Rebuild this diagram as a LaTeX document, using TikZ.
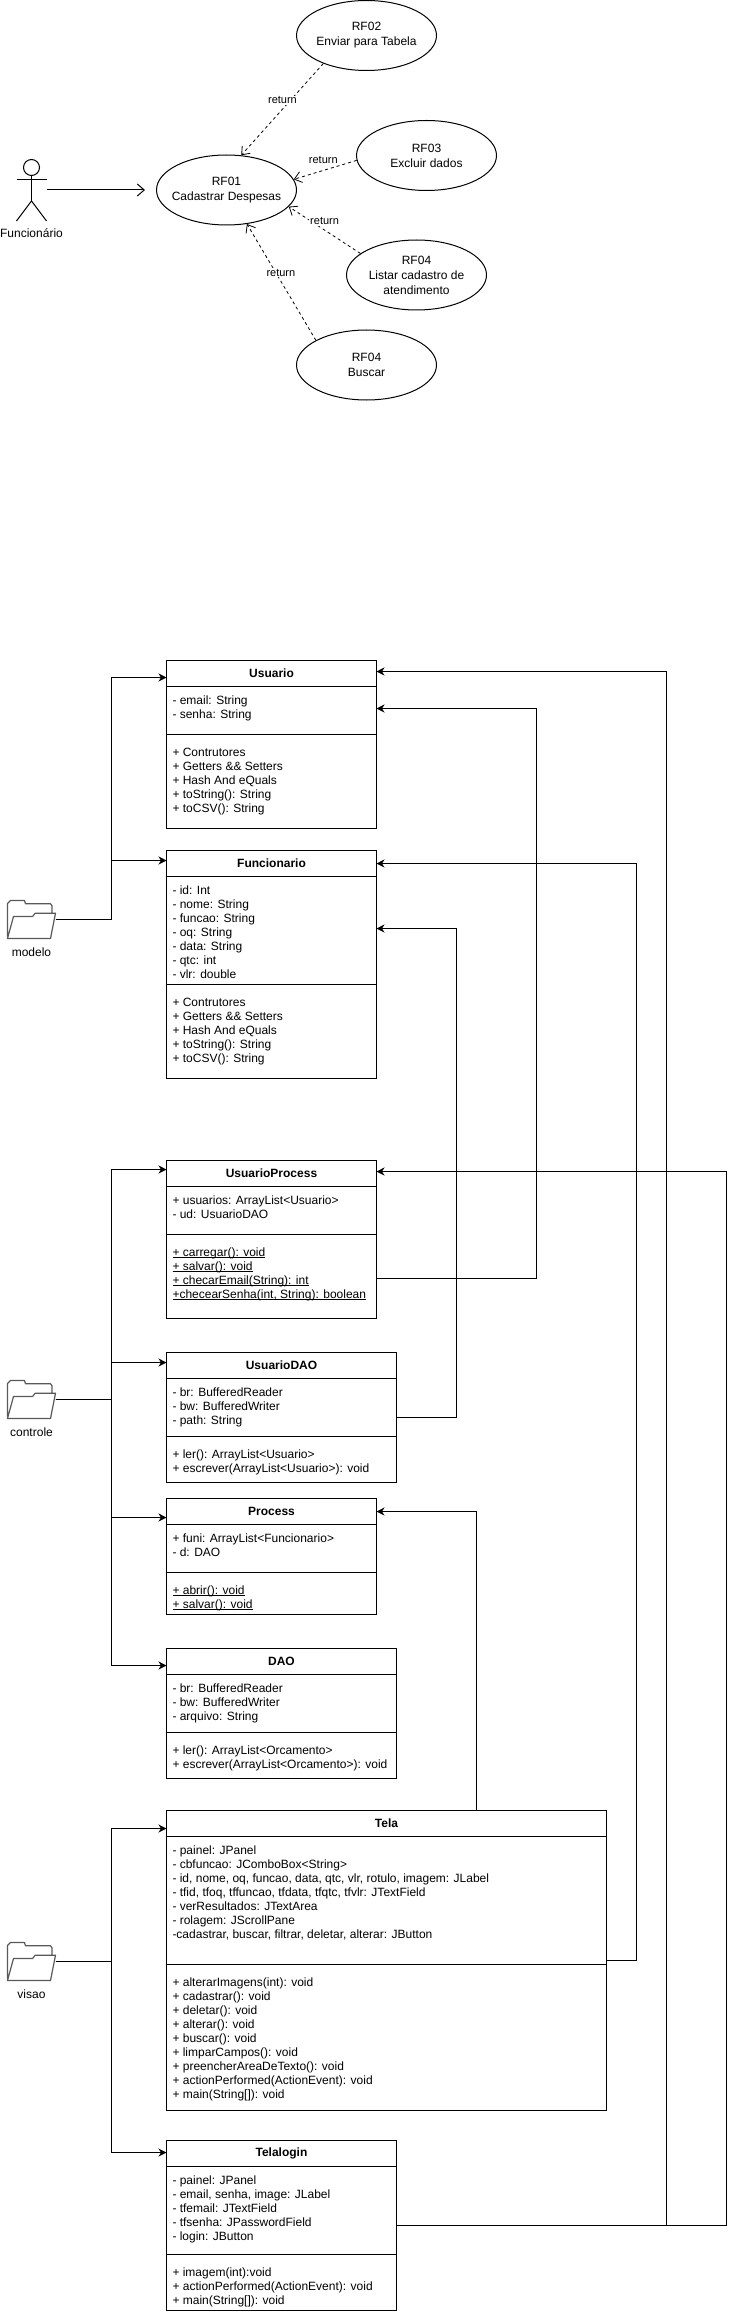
\documentclass[tikz,border=0pt]{standalone}
\usepackage{fontspec}
\setmainfont{Liberation Sans}
\usetikzlibrary{positioning,shapes.geometric,arrows.meta}

% width, height, top gap, lines
\newcommand{\classrows}[4]{\parbox[t][#2pt][t]{#1pt}{\raggedright\vspace*{#3pt}\strut#4}}
\newcommand{\classuline}[1]{\leavevmode\setbox0=\hbox{#1}\rlap{\rule[-1.6pt]{\wd0}{.8pt}}\box0}

\begin{document}
\begin{tikzpicture}[
x=1pt,y=-1pt,
font=\fontsize{12}{14}\selectfont,
usecase/.style={ellipse, draw=black, line width=1pt, minimum width=140pt, minimum height=70pt, inner xsep=-30pt, inner ysep=-20pt, align=center, font=\fontsize{12}{15}\selectfont},
actorhead/.style={circle, draw=black, line width=1pt, minimum size=16pt, inner sep=0pt},
plainlabel/.style={inner sep=0pt},
returnlabel/.style={fill=white, inner sep=1pt, font=\fontsize{11}{13}\selectfont},
classtitle/.style={rectangle, draw=black, line width=1pt, outer sep=0pt, inner sep=0pt, minimum height=26pt, font=\fontsize{12}{14}\selectfont\bfseries},
classbody/.style={rectangle, draw=black, line width=1pt, outer sep=0pt, inner ysep=0pt, inner xsep=6pt},
foldernode/.style={rectangle, minimum width=48pt, minimum height=38pt, inner sep=0pt, outer sep=0pt},
folderline/.style={draw=black!65, line width=1.2pt, line join=round},
openlink/.style={line width=1pt, -{Straight Barb[length=7pt,width=12pt]}},
returnlink/.style={line width=.8pt, dash pattern=on 3pt off 3pt, -{Straight Barb[length=7pt,width=11pt]}},
classlink/.style={line width=1pt, -{Stealth[length=8pt,width=8pt,inset=2.5pt]}},
]
\useasboundingbox (0,0) rectangle (735,2314);

%Use cases
\node[usecase] (rf01) at (226.5,190)  {RF01\\Cadastrar Despesas};
\node[usecase] (rf02) at (366.5,35.5) {RF02\\Enviar para Tabela};
\node[usecase] (rf03) at (426.5,155.5) {RF03\\Excluir dados};
\node[usecase] (rf04a) at (416.5,275) {RF04\\Listar cadastro de\\atendimento};
\node[usecase] (rf04b) at (366.5,365) {RF04\\Buscar};

%Actor
\node[actorhead] (head) at (31.5,167.5) {};
\coordinate (armleft)  at (16.5,180);
\coordinate (armright) at (46.5,180);
\coordinate (hip)      at (31.5,201);
\coordinate (footleft) at (16.5,221);
\coordinate (footright) at (46.5,221);
\coordinate (hand)     at (46.5,190);
\draw[line width=1pt] (head.south) -- (hip);
\draw[line width=1pt] (armleft) -- (armright);
\draw[line width=1pt] (footleft) -- (hip) -- (footright);
\node[plainlabel] (funcionario) at (31.5,233) {Funcion\'ario};

%Use case lines
\draw[openlink, shorten >=11pt] (hand) -- (rf01.west |- hand);
\draw[returnlink] (rf02.213)  -- node[returnlabel, pos=.4, xshift=-8pt] (ret1) {return} (rf01.67);
\draw[returnlink] (rf03.184)  -- node[returnlabel, pos=.53, yshift=10pt] (ret2) {return} (rf01.9);
\draw[returnlink] (rf04a.159) -- node[returnlabel, pos=.5, yshift=9pt] (ret3) {return} (rf01.-15);
\draw[returnlink] (rf04b.154) -- node[returnlabel, pos=.58, xshift=5pt] (ret4) {return} (rf01.-59);

%Folders
\node[foldernode] (modelo)   at (31.5,919.5)  {};
\node[foldernode] (controle) at (31.5,1399.5) {};
\node[foldernode] (visao)    at (31.5,1961.5) {};
\foreach \folder in {modelo,controle,visao}
  \draw[folderline, shift={(\folder.north west)}]
    (0,36) -- (0,3) -- (3,0) -- (17,0) -- (18,3.3) -- (43,3.3) -- (44.5,5.3) -- (44.5,12.7)
    (0,38) -- (43,38) -- (48,12.7) -- (27.7,12.7) -- (25,16) -- (6,16) -- cycle;
\node[plainlabel] (modelolabel)   at (31.5,952)  {modelo};
\node[plainlabel] (controlelabel) at (31.5,1432) {controle};
\node[plainlabel] (visaolabel)    at (31.5,1994) {visao};

%Classes
\node[classtitle, minimum width=210pt, anchor=north west] (usuario) at (166.5,660.5) {Usuario};
\node[classbody] (usuarioattr) [below=0pt of usuario] {\classrows{198}{48}{8.2}{- email: String\\- senha: String}};
\node[classbody] (usuariometh) [below=0pt of usuarioattr] {\classrows{198}{94}{12.2}{+ Contrutores\\+ Getters \&\& Setters\\+ Hash And eQuals\\+ toString(): String\\+ toCSV(): String}};

\node[classtitle, minimum width=210pt, anchor=north west] (funcionarioc) at (166.5,850.5) {Funcionario};
\node[classbody] (funcionarioattr) [below=0pt of funcionarioc] {\classrows{198}{108}{8.2}{- id: Int\\- nome: String\\- funcao: String\\- oq: String\\- data: String\\- qtc: int\\- vlr: double}};
\node[classbody] (funcionariometh) [below=0pt of funcionarioattr] {\classrows{198}{94}{12.2}{+ Contrutores\\+ Getters \&\& Setters\\+ Hash And eQuals\\+ toString(): String\\+ toCSV(): String}};

\node[classtitle, minimum width=210pt, anchor=north west] (uprocess) at (166.5,1160.5) {UsuarioProcess};
\node[classbody] (uprocessattr) [below=0pt of uprocess] {\classrows{198}{48}{8.2}{+ usuarios: ArrayList<Usuario>\\- ud: UsuarioDAO}};
\node[classbody] (uprocessmeth) [below=0pt of uprocessattr] {\classrows{198}{84}{12.2}{\classuline{+ carregar(): void}\\\classuline{+ salvar(): void}\\\classuline{+ checarEmail(String): int}\\\classuline{+checearSenha(int, String): boolean}}};

\node[classtitle, minimum width=230pt, anchor=north west] (udao) at (166.5,1352.5) {UsuarioDAO};
\node[classbody] (udaoattr) [below=0pt of udao] {\classrows{218}{58}{8.2}{- br: BufferedReader\\- bw: BufferedWriter\\- path: String}};
\node[classbody] (udaometh) [below=0pt of udaoattr] {\classrows{218}{46}{12.2}{+ ler(): ArrayList<Usuario>\\+ escrever(ArrayList<Usuario>): void}};

\node[classtitle, minimum width=210pt, anchor=north west] (process) at (166.5,1498.5) {Process};
\node[classbody] (processattr) [below=0pt of process] {\classrows{198}{48}{8.2}{+ funi: ArrayList<Funcionario>\\- d: DAO}};
\node[classbody] (processmeth) [below=0pt of processattr] {\classrows{198}{42}{12.2}{\classuline{+ abrir(): void}\\\classuline{+ salvar(): void}}};

\node[classtitle, minimum width=230pt, anchor=north west] (dao) at (166.5,1648.5) {DAO};
\node[classbody] (daoattr) [below=0pt of dao] {\classrows{218}{58}{8.2}{- br: BufferedReader\\- bw: BufferedWriter\\- arquivo: String}};
\node[classbody] (daometh) [below=0pt of daoattr] {\classrows{218}{46}{12.2}{+ ler(): ArrayList<Orcamento>\\+ escrever(ArrayList<Orcamento>): void}};

\node[classtitle, minimum width=440pt, anchor=north west] (tela) at (166.5,1810.5) {Tela};
\node[classbody] (telaattr) [below=0pt of tela] {\classrows{428}{128}{8.2}{- painel: JPanel\\- cbfuncao: JComboBox<String>\\- id, nome, oq, funcao, data, qtc, vlr, rotulo, imagem: JLabel\\- tfid, tfoq, tffuncao, tfdata, tfqtc, tfvlr: JTextField\\- verResultados: JTextArea\\- rolagem: JScrollPane\\-cadastrar, buscar, filtrar, deletar, alterar: JButton}};
\node[classbody] (telameth) [below=0pt of telaattr] {\classrows{428}{146}{12.2}{+ alterarImagens(int): void\\+ cadastrar(): void\\+ deletar(): void\\+ alterar(): void\\+ buscar(): void\\+ limparCampos(): void\\+ preencherAreaDeTexto(): void\\+ actionPerformed(ActionEvent): void\\+ main(String[]): void}};

\node[classtitle, minimum width=230pt, anchor=north west] (telalogin) at (166.5,2140.5) {Telalogin};
\node[classbody] (telaloginattr) [below=0pt of telalogin] {\classrows{218}{88}{8.2}{- painel: JPanel\\- email, senha, image: JLabel\\- tfemail: JTextField\\- tfsenha: JPasswordField\\- login: JButton}};
\node[classbody] (telaloginmeth) [below=0pt of telaloginattr] {\classrows{218}{56}{12.2}{+ imagem(int):void\\+ actionPerformed(ActionEvent): void\\+ main(String[]): void}};

%Package lines
\draw[classlink] (modelo.east) -- ++(56,0) |- ([yshift=-4pt]usuario.west);
\draw[classlink] (modelo.east) -- ++(56,0) |- ([yshift=3pt]funcionarioc.west);

\draw[classlink] (controle.east) -- ++(56,0) |- ([yshift=4pt]uprocess.west);
\draw[classlink] (controle.east) -- ++(56,0) |- ([yshift=3pt]udao.west);
\draw[classlink] (controle.east) -- ++(56,0) |- ([yshift=-6pt]process.west);
\draw[classlink] (controle.east) -- ++(56,0) |- ([yshift=-4pt]dao.west);

\draw[classlink] (visao.east) -- ++(56,0) |- ([yshift=-5pt]tela.west);
\draw[classlink] (visao.east) -- ++(56,0) |- ([yshift=1pt]telalogin.west);

%Dependency lines
\draw[classlink] ([yshift=-2pt]uprocessmeth.east) -- ++(160,0) |- ([yshift=2pt]usuarioattr.east);
\draw[classlink] ([yshift=-10pt]udaoattr.east) -- ++(60,0) |- ([yshift=2pt]funcionarioattr.east);
\draw[classlink] ([yshift=4pt]telaattr.south east) -- ++(30,0) |- (funcionarioc.east);
\draw[classlink] ([xshift=90pt]tela.north) |- (process.east);
\draw[classlink] ([yshift=-15pt]telaloginattr.east) -- ++(270,0) |- ([yshift=2pt]usuario.east);
\draw[classlink] ([yshift=-15pt]telaloginattr.east) -- ++(330,0) |- ([yshift=2pt]uprocess.east);

\end{tikzpicture}
\end{document}
